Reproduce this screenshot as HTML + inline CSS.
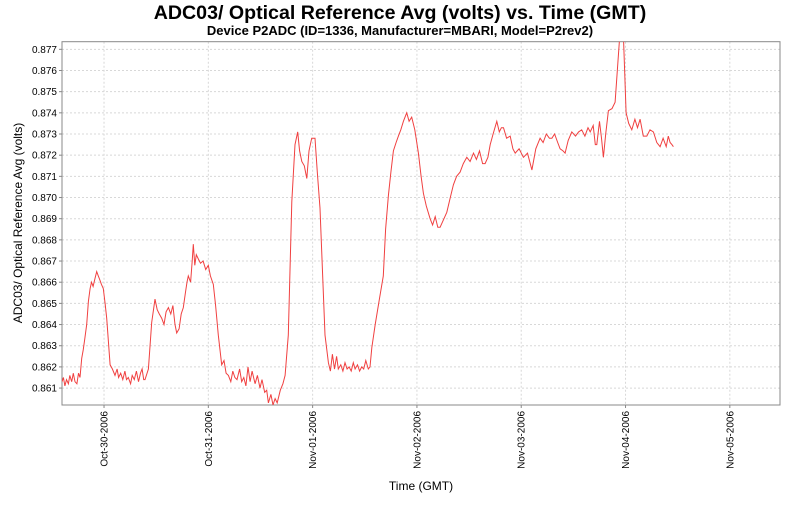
<!DOCTYPE html>
<html><head><meta charset="utf-8"><style>
body{margin:0;background:#fff;font-family:"Liberation Sans",sans-serif}
svg text{font-family:"Liberation Sans",sans-serif}
</style></head><body>
<svg id="chart" width="800" height="500" xmlns="http://www.w3.org/2000/svg">
<rect width="800" height="500" fill="#fff"/>
<text x="400" y="19" text-anchor="middle" font-size="19.6" font-weight="bold">ADC03/ Optical Reference Avg (volts) vs. Time (GMT)</text>
<text x="400" y="35" text-anchor="middle" font-size="13" font-weight="bold">Device P2ADC (ID=1336, Manufacturer=MBARI, Model=P2rev2)</text>
<defs><clipPath id="clip"><rect x="62" y="41.7" width="718" height="363.3"/></clipPath></defs>
<g id="grid"></g>
<rect x="62" y="41.7" width="718" height="363.3" fill="none" stroke="#888" stroke-width="1"/>
<g id="axes"></g>
<path id="series" clip-path="url(#clip)" fill="none" stroke="#f04040" stroke-width="1"/>
<text x="421" y="490" text-anchor="middle" font-size="12">Time (GMT)</text>
<text transform="translate(22,223) rotate(-90)" text-anchor="middle" font-size="12">ADC03/ Optical Reference Avg (volts)</text>
</svg>
<script>
// days since Oct-29-2006 00:00 GMT
const times=[
0.597,0.610,0.625,0.640,0.658,0.672,0.690,0.705,0.722,0.740,
0.755,0.770,0.786,0.800,0.815,0.834,0.850,0.866,0.880,0.895,
0.914,0.930,0.945,0.960,0.975,0.993,1.010,1.026,1.058,1.080,
1.105,1.125,1.140,1.160,1.180,1.200,1.215,1.233,1.255,1.270,
1.290,1.310,1.330,1.350,1.365,1.380,1.393,1.425,1.457,1.489,
1.510,1.530,1.553,1.575,1.595,1.617,1.640,1.660,1.680,1.697,
1.720,1.740,1.760,1.780,1.795,1.808,1.830,1.845,1.856,1.870,
1.885,1.904,1.925,1.950,1.975,2.000,2.020,2.048,2.070,2.096,
2.128,2.150,2.170,2.192,2.215,2.235,2.255,2.275,2.300,2.320,
2.340,2.360,2.380,2.400,2.420,2.448,2.470,2.495,2.515,2.540,
2.560,2.576,2.600,2.620,2.640,2.660,2.690,2.715,2.736,2.767,
2.800,2.831,2.857,2.875,2.896,2.920,2.944,2.965,2.991,3.023,
3.045,3.071,3.095,3.119,3.151,3.170,3.190,3.210,3.230,3.246,
3.270,3.290,3.310,3.330,3.350,3.370,3.390,3.407,3.430,3.450,
3.470,3.490,3.510,3.534,3.550,3.567,3.600,3.640,3.678,3.700,
3.726,3.750,3.774,3.800,3.822,3.845,3.870,3.902,3.925,3.950,
3.980,4.014,4.040,4.062,4.090,4.126,4.150,4.175,4.200,4.222,
4.250,4.286,4.320,4.350,4.380,4.414,4.445,4.478,4.510,4.542,
4.570,4.600,4.630,4.654,4.680,4.702,4.730,4.766,4.790,4.810,
4.830,4.860,4.894,4.920,4.942,4.980,5.021,5.060,5.102,5.140,
5.181,5.210,5.240,5.270,5.294,5.320,5.350,5.373,5.400,5.421,
5.450,5.485,5.520,5.550,5.580,5.610,5.640,5.661,5.690,5.710,
5.725,5.750,5.770,5.788,5.810,5.836,5.870,5.900,5.941,5.979,
6.005,6.030,6.060,6.090,6.115,6.140,6.170,6.204,6.235,6.267,
6.300,6.331,6.360,6.390,6.410,6.427,6.445,6.459];
const values=[
0.8613,0.8615,0.8611,0.8614,0.8612,0.8616,0.8613,0.8617,0.8613,0.8612,
0.8617,0.8615,0.8624,0.8628,0.8633,0.8640,0.8651,0.8657,0.8660,0.8658,
0.8662,0.8665,0.8663,0.8661,0.8659,0.8657,0.8650,0.8643,0.8621,0.8619,
0.8616,0.8619,0.8615,0.8617,0.8614,0.8618,0.8614,0.8615,0.8612,0.8616,
0.8614,0.8618,0.8613,0.8617,0.8619,0.8614,0.8614,0.8619,0.8641,0.8652,
0.8647,0.8645,0.8643,0.8640,0.8646,0.8648,0.8645,0.8649,0.8640,0.8636,
0.8638,0.8645,0.8648,0.8655,0.8660,0.8663,0.8660,0.8670,0.8678,0.8668,
0.8673,0.8671,0.8669,0.8670,0.8666,0.8668,0.8663,0.8659,0.8649,0.8635,
0.8621,0.8623,0.8617,0.8616,0.8613,0.8618,0.8615,0.8614,0.8619,0.8613,
0.8615,0.8611,0.8620,0.8613,0.8618,0.8612,0.8616,0.8610,0.8614,0.8608,
0.8609,0.8603,0.8607,0.8602,0.8605,0.8603,0.8609,0.8612,0.8616,0.8635,
0.8698,0.8725,0.8731,0.8722,0.8717,0.8715,0.8709,0.8722,0.8728,0.8728,
0.8712,0.8695,0.8665,0.8635,0.8622,0.8618,0.8626,0.8619,0.8625,0.8619,
0.8621,0.8618,0.8622,0.8619,0.8620,0.8618,0.8622,0.8619,0.8621,0.8618,
0.8620,0.8619,0.8623,0.8619,0.8620,0.8629,0.8640,0.8652,0.8663,0.8685,
0.8701,0.8712,0.8722,0.8726,0.8729,0.8732,0.8736,0.8740,0.8736,0.8738,
0.8732,0.8721,0.8710,0.8702,0.8696,0.8690,0.8687,0.8691,0.8686,0.8686,
0.8689,0.8693,0.8700,0.8706,0.8710,0.8712,0.8716,0.8719,0.8717,0.8721,
0.8718,0.8722,0.8716,0.8716,0.8719,0.8725,0.8730,0.8736,0.8731,0.8733,
0.8733,0.8728,0.8729,0.8723,0.8721,0.8723,0.8719,0.8721,0.8713,0.8723,
0.8728,0.8726,0.8730,0.8728,0.8728,0.8730,0.8726,0.8723,0.8722,0.8721,
0.8727,0.8731,0.8729,0.8731,0.8732,0.8729,0.8733,0.8731,0.8734,0.8725,
0.8725,0.8736,0.8728,0.8719,0.8730,0.8741,0.8742,0.8745,0.8774,0.8778,
0.8740,0.8735,0.8732,0.8737,0.8733,0.8737,0.8729,0.8729,0.8732,0.8731,
0.8726,0.8724,0.8728,0.8724,0.8729,0.8726,0.8725,0.8724];
const yTicks=[0.861,0.862,0.863,0.864,0.865,0.866,0.867,0.868,0.869,0.870,0.871,0.872,0.873,0.874,0.875,0.876,0.877];
const xTickDays=[1,2,3,4,5,6,7];
const xTickLabels=["Oct-30-2006","Oct-31-2006","Nov-01-2006","Nov-02-2006","Nov-03-2006","Nov-04-2006","Nov-05-2006"];
const X0=62,X1=780,Y0=405,Y1=41.7,D0=0.597,D1=7.481,V0=0.86020,V1=0.87736;
const xs=d=>X0+(d-D0)/(D1-D0)*(X1-X0);
const ys=v=>Y0-(v-V0)/(V1-V0)*(Y0-Y1);
const NS="http://www.w3.org/2000/svg";
const grid=document.getElementById('grid'),axes=document.getElementById('axes');
function mk(tag,attrs,parent){const e=document.createElementNS(NS,tag);for(const k in attrs)e.setAttribute(k,attrs[k]);parent.appendChild(e);return e;}
yTicks.forEach(v=>{const y=ys(v);
 const g=mk('line',{x1:X0,x2:X1,y1:y,y2:y,stroke:'#d8d8d8','stroke-dasharray':'2,2'},grid);
 
 
 const t=mk('line',{x1:X0-3,x2:X0,y1:y,y2:y,stroke:'#888'},axes);
 
 
 const l=mk('text',{x:X0-5,y:y+3.5,'text-anchor':'end','font-size':'10'},axes);
 
 
 l.textContent=v.toFixed(3);
});
xTickDays.forEach((d,i)=>{const x=xs(d);
 const g=mk('line',{x1:x,x2:x,y1:Y1,y2:Y0,stroke:'#d8d8d8','stroke-dasharray':'2,2'},grid);
 
 
 const t=mk('line',{x1:x,x2:x,y1:Y0,y2:Y0+3,stroke:'#888'},axes);
 
 
 const l=mk('text',{transform:`translate(${x+3.5},${Y0+6}) rotate(-90)`,'text-anchor':'end','font-size':'10'},axes);
 
 
 l.textContent=xTickLabels[i];
});
const n=Math.min(times.length,values.length);
let d='';
for(let i=0;i<n;i++){d+=(i?'L':'M')+xs(times[i]).toFixed(1)+','+ys(values[i]).toFixed(1);}
document.getElementById('series').setAttribute('d',d);
</script>
</body></html>
